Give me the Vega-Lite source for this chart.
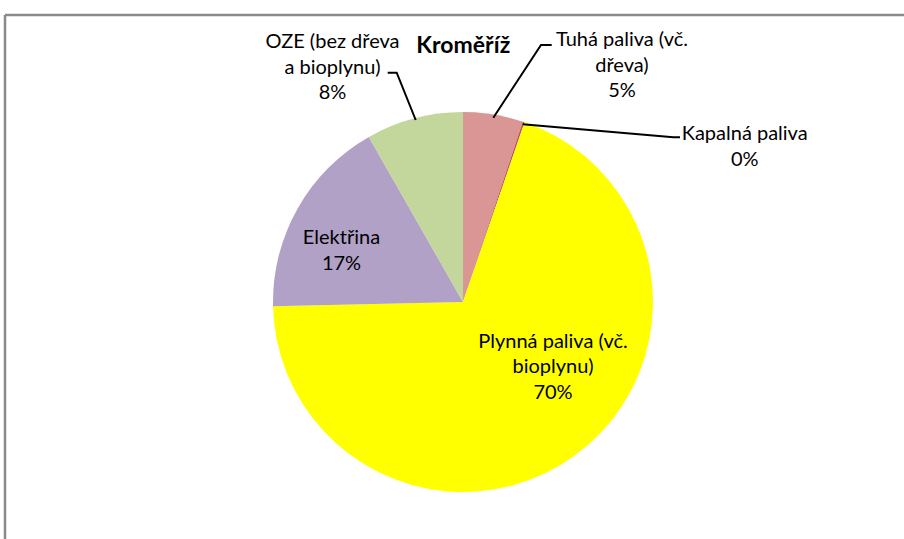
{
  "$schema": "https://vega.github.io/schema/vega-lite/v6.json",
  "width": 380,
  "height": 380,
  "autosize": {"type": "none"},
  "padding": {"left": 273, "top": 112, "right": 251, "bottom": 47},
  "background": "white",
  "config": {"view": {"stroke": null}},
  "datasets": {
    "slices": [
      {"idx": 1, "kategorie": "Tuhá paliva (vč. dřeva)", "podil": 5.1},
      {"idx": 2, "kategorie": "Kapalná paliva", "podil": 0.15},
      {"idx": 3, "kategorie": "Plynná paliva (vč. bioplynu)", "podil": 69.4},
      {"idx": 4, "kategorie": "Elektřina", "podil": 17.1},
      {"idx": 5, "kategorie": "OZE (bez dřeva a bioplynu)", "podil": 8.25}
    ],
    "labels": [
      {"kategorie": "OZE (bez dřeva a bioplynu)", "text": ["OZE (bez dřeva", "a bioplynu)", "8%"], "lx": -0.6868, "ly": 1.368},
      {"kategorie": "Tuhá paliva (vč. dřeva)", "text": ["Tuhá paliva (vč.", "dřeva)", "5%"], "lx": 0.8368, "ly": 1.377},
      {"kategorie": "Kapalná paliva", "text": ["Kapalná paliva", "0%"], "lx": 1.4826, "ly": 0.884},
      {"kategorie": "Elektřina", "text": ["Elektřina", "17%"], "lx": -0.6395, "ly": 0.335},
      {"kategorie": "Plynná paliva (vč. bioplynu)", "text": ["Plynná paliva (vč.", "bioplynu)", "70%"], "lx": 0.4737, "ly": -0.209}
    ],
    "leaders": [
      {"kategorie": "OZE", "bod": 1, "lx": -0.3963, "ly": 1.2068},
      {"kategorie": "OZE", "bod": 2, "lx": -0.3489, "ly": 1.2068},
      {"kategorie": "OZE", "bod": 3, "lx": -0.2489, "ly": 0.9579},
      {"kategorie": "Tuhá", "bod": 1, "lx": 0.4668, "ly": 1.3526},
      {"kategorie": "Tuhá", "bod": 2, "lx": 0.4105, "ly": 1.3526},
      {"kategorie": "Tuhá", "bod": 3, "lx": 0.1595, "ly": 0.97},
      {"kategorie": "Kapalná", "bod": 1, "lx": 0.3142, "ly": 0.9353},
      {"kategorie": "Kapalná", "bod": 2, "lx": 1.1068, "ly": 0.8668},
      {"kategorie": "Kapalná", "bod": 3, "lx": 1.1421, "ly": 0.8668}
    ],
    "frame": [
      {"x": -2.4105, "y": 1.5105, "x2": 2.6, "y2": 1.5105},
      {"x": -2.4105, "y": 1.5105, "x2": -2.4105, "y2": -1.6}
    ],
    "title": [
      {"text": "Kroměříž", "lx": 0.002, "ly": 1.35}
    ]
  },
  "layer": [
    {
      "data": {"name": "slices"},
      "mark": {"type": "arc", "outerRadius": 190},
      "encoding": {
        "theta": {"field": "podil", "type": "quantitative", "stack": true},
        "order": {"field": "idx", "type": "quantitative"},
        "color": {
          "field": "kategorie",
          "type": "nominal",
          "legend": null,
          "scale": {
            "domain": ["Tuhá paliva (vč. dřeva)", "Kapalná paliva", "Plynná paliva (vč. bioplynu)", "Elektřina", "OZE (bez dřeva a bioplynu)"],
            "range": ["#d99694", "#c0504d", "#ffff00", "#b2a1c7", "#c3d69b"]
          }
        }
      }
    },
    {
      "data": {"name": "frame"},
      "mark": {"type": "rule", "color": "#8a8a8a", "strokeWidth": 2.5},
      "encoding": {
        "x": {"field": "x", "type": "quantitative", "axis": null, "scale": {"domain": [-1, 1], "nice": false, "zero": false}},
        "y": {"field": "y", "type": "quantitative", "axis": null, "scale": {"domain": [-1, 1], "nice": false, "zero": false}},
        "x2": {"field": "x2"},
        "y2": {"field": "y2"}
      }
    },
    {
      "data": {"name": "leaders"},
      "mark": {"type": "line", "color": "black", "strokeWidth": 2, "strokeJoin": "miter"},
      "encoding": {
        "x": {"field": "lx", "type": "quantitative", "axis": null, "scale": {"domain": [-1, 1], "nice": false, "zero": false}},
        "y": {"field": "ly", "type": "quantitative", "axis": null, "scale": {"domain": [-1, 1], "nice": false, "zero": false}},
        "detail": {"field": "kategorie", "type": "nominal"},
        "order": {"field": "bod", "type": "quantitative"}
      }
    },
    {
      "data": {"name": "labels"},
      "mark": {"type": "text", "font": "Lato", "fontSize": 20, "lineHeight": 25.5, "align": "center", "baseline": "middle", "color": "black"},
      "encoding": {
        "x": {"field": "lx", "type": "quantitative", "axis": null, "scale": {"domain": [-1, 1], "nice": false, "zero": false}},
        "y": {"field": "ly", "type": "quantitative", "axis": null, "scale": {"domain": [-1, 1], "nice": false, "zero": false}},
        "text": {"field": "text"}
      }
    },
    {
      "data": {"name": "title"},
      "mark": {"type": "text", "font": "Lato", "fontSize": 23, "fontWeight": "bold", "align": "center", "baseline": "middle", "color": "black"},
      "encoding": {
        "x": {"field": "lx", "type": "quantitative", "axis": null, "scale": {"domain": [-1, 1], "nice": false, "zero": false}},
        "y": {"field": "ly", "type": "quantitative", "axis": null, "scale": {"domain": [-1, 1], "nice": false, "zero": false}},
        "text": {"field": "text"}
      }
    }
  ]
}
